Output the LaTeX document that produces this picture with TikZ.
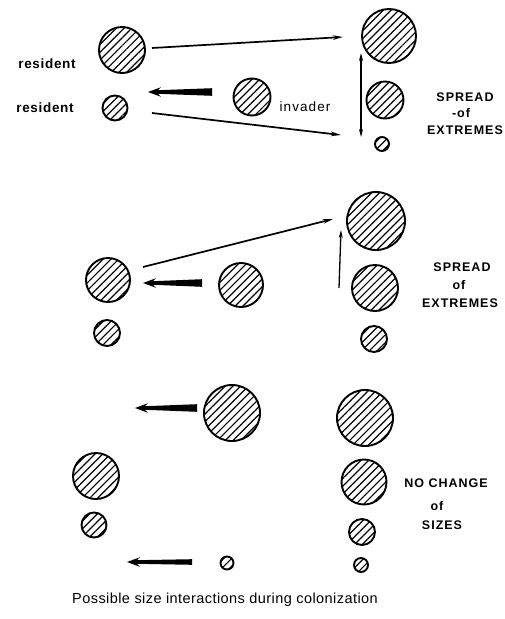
\documentclass[tikz,border=0pt]{standalone}
\usepackage{fontspec}
\setmainfont{Liberation Sans}
\newfontfamily\resfont[LetterSpace=5]{Liberation Sans}
\newfontfamily\capsfont[LetterSpace=8]{Liberation Sans}
\newfontfamily\invfont[LetterSpace=8]{Liberation Sans}
\newfontfamily\capfont[LetterSpace=3]{Liberation Sans}
\usetikzlibrary{patterns.meta,arrows.meta,calc}
\tikzset{
  cell/.style={circle,draw=black,line width=1.9pt,inner sep=0pt,outer sep=0pt,minimum size=#1,
    pattern={Lines[angle=45,distance=5.5pt,line width=1.2pt]}},
  thinarrow/.style={line width=1.7pt,-{Stealth[length=10pt,width=4.5pt]}},
  vertarrow/.style={line width=1.3pt,-{Stealth[length=8pt,width=4pt]}},
  reslbl/.style={inner sep=0pt,font=\resfont\bfseries\fontsize{13.5}{15}\selectfont},
  invlbl/.style={inner sep=0pt,font=\invfont\fontsize{13.5}{15}\selectfont},
  capslbl/.style={inner sep=0pt,font=\capsfont\bfseries\fontsize{12.5}{14}\selectfont},
  captionlbl/.style={inner sep=0pt,font=\capfont\fontsize{14.5}{16}\selectfont},
}
\newcommand{\fatarrow}[3]{%
  \fill[black] let \p1=(#1), \p2=(#2) in
    (\x1,\y1+#3) -- (\x2+10pt,\y2+1.8pt) -- (\x2+13pt,\y2+4.8pt) -- (\p2)
    -- (\x2+13pt,\y2-4.8pt) -- (\x2+10pt,\y2-1.8pt) -- (\x1,\y1-#3) -- cycle;}
\begin{document}
\begin{tikzpicture}[x=1pt,y=-1pt]
\useasboundingbox[fill=white] (0,0) rectangle (505,619);
% ---------- section 1 ----------
\node[cell=46pt] (r1) at (122,50) {};
\node[cell=25pt] (r2) at (115,108) {};
\node[cell=37pt] (inv1) at (252,97) {};
\node[cell=54pt] (b1) at (389,36) {};
\node[cell=37pt] (m1) at (385,100) {};
\node[cell=14pt] (t1) at (382,144) {};
\node[reslbl] (res1) at (47,64) {resident};
\node[reslbl] (res2) at (45,108) {resident};
\node[invlbl] (invtxt) at (305,107) {invader};
\node[capslbl] (s1a) at (465,97) {SPREAD};
\node[capslbl] (s1b) at (461,113) {-of};
\node[capslbl] (s1c) at (465,130) {EXTREMES};
\coordinate (a1s) at (152,48);  \coordinate (a1e) at (343,37);
\coordinate (a2s) at (152,113); \coordinate (a2e) at (341,135);
\coordinate (f1s) at (212,92);  \coordinate (f1e) at (148,92);
\coordinate (v1a) at (361,137); \coordinate (v1b) at (361,53);
\draw[thinarrow] (a1s) -- (a1e);
\draw[thinarrow] (a2s) -- (a2e);
\draw[line width=1.3pt,{Stealth[length=8pt,width=4pt]}-{Stealth[length=8pt,width=4pt]}] (v1a) -- (v1b);
\fatarrow{f1s}{f1e}{3.8pt}
% ---------- section 2 ----------
\node[cell=44pt] (l2) at (108,280) {};
\node[cell=26pt] (l2s) at (107,333) {};
\node[cell=44pt] (inv2) at (241,285) {};
\node[cell=58pt] (b2) at (376,221) {};
\node[cell=46pt] (m2) at (375,288) {};
\node[cell=26pt] (t2) at (374,339) {};
\node[capslbl] (s2a) at (462,267) {SPREAD};
\node[capslbl] (s2b) at (459,285) {of};
\node[capslbl] (s2c) at (460,303) {EXTREMES};
\coordinate (a3s) at (143,267); \coordinate (a3e) at (333,219);
\coordinate (f2s) at (202,283); \coordinate (f2e) at (143,283);
\coordinate (v2a) at (339,288); \coordinate (v2b) at (341,230);
\draw[thinarrow] (a3s) -- (a3e);
\draw[vertarrow] (v2a) -- (v2b);
\fatarrow{f2s}{f2e}{3.8pt}
% ---------- section 3 ----------
\node[cell=56pt] (inv3) at (232,413) {};
\node[cell=46pt] (l3) at (96,476) {};
\node[cell=25pt] (l3s) at (94,525) {};
\node[cell=13pt] (inv4) at (227,563) {};
\node[cell=56pt] (b3) at (365,418) {};
\node[cell=45pt] (m3) at (364,482) {};
\node[cell=26pt] (s3) at (362,532) {};
\node[cell=14pt] (t3) at (361,565) {};
\node[capslbl] (n3a) at (446,483) {NO CHANGE};
\node[capslbl] (n3b) at (437,506) {of};
\node[capslbl] (n3c) at (442,525) {SIZES};
\coordinate (f3s) at (197,408); \coordinate (f3e) at (135,408);
\coordinate (f4s) at (192,562); \coordinate (f4e) at (127,562);
\fatarrow{f3s}{f3e}{3.8pt}
\fatarrow{f4s}{f4e}{2.8pt}
% ---------- caption ----------
\node[captionlbl] (cap) at (225,600) {Possible size interactions during colonization};
\end{tikzpicture}
\end{document}
